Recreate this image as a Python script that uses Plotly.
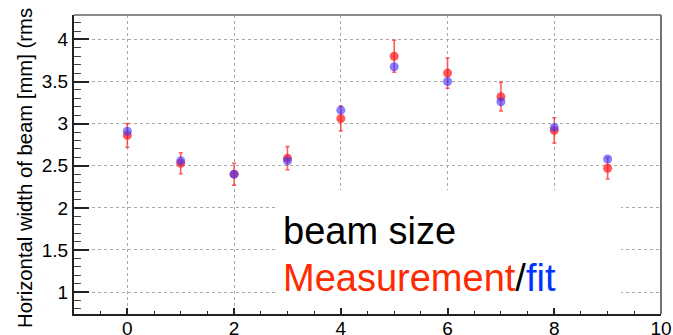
import plotly.graph_objects as go

# Data
x_pos = [0, 1, 2, 3, 4, 5, 6, 7, 8, 9]
measurement = [2.86, 2.53, 2.40, 2.59, 3.06, 3.80, 3.60, 3.32, 2.92, 2.47]
meas_err = [0.14, 0.125, 0.13, 0.137, 0.148, 0.19, 0.18, 0.17, 0.15, 0.127]
fit = [2.91, 2.56, 2.40, 2.56, 3.16, 3.675, 3.50, 3.26, 2.955, 2.58]

x_ticks = [0, 2, 4, 6, 8, 10]
y_ticks = [1, 1.5, 2, 2.5, 3, 3.5, 4]

W, H = 673, 335
ML, MR, MT, MB = 74, 12, 15, 21
PW, PH = W - ML - MR, H - MT - MB

fig = go.Figure()

fig.add_trace(go.Scatter(
    x=x_pos, y=measurement, mode="markers", name="Measurement",
    marker=dict(color="rgba(255,25,25,0.72)", size=9, line=dict(width=0)),
    error_y=dict(type="data", array=meas_err, visible=True,
                 color="rgba(255,40,40,0.75)", thickness=1.6, width=2),
    showlegend=False,
))
fig.add_trace(go.Scatter(
    x=x_pos, y=fit, mode="markers", name="fit",
    marker=dict(color="rgba(60,50,255,0.62)", size=9, line=dict(width=0)),
    showlegend=False,
))

# white box behind the text (covers grid lines)
fig.add_shape(type="rect", xref="x", yref="y", x0=2.77, x1=9.25, y0=0.745, y1=2.21,
              fillcolor="white", line=dict(width=0), layer="between")
# top and right frame lines
fig.add_shape(type="line", xref="paper", yref="paper", x0=0, x1=1, y0=1, y1=1,
              line=dict(color="#8a8a8a", width=2), layer="above")
fig.add_shape(type="line", xref="paper", yref="paper", x0=1, x1=1, y0=0, y1=1,
              line=dict(color="#707070", width=2), layer="above")

font_main = "Liberation Sans, Arial, sans-serif"

def py(pix):
    return (H - MB - pix) / PH

def px(pix):
    return (pix - ML) / PW

fig.add_annotation(xref="paper", yref="paper", x=px(281), y=py(231), xanchor="left", yanchor="middle",
                   text="beam size", showarrow=False,
                   font=dict(family=font_main, size=38, color="black"))
fig.add_annotation(xref="paper", yref="paper", x=px(281), y=py(278), xanchor="left", yanchor="middle",
                   text="<span style='color:#ff2a00'>Measurement</span>/<span style='color:#0033ff'>fit</span>",
                   showarrow=False,
                   font=dict(family=font_main, size=38, color="black"))
# y-axis title (truncated at the top in the reference)
fig.add_annotation(xref="paper", yref="paper", x=px(25), y=py(168),
                   xanchor="center", yanchor="middle", textangle=-90,
                   text="Horizontal width of beam [mm] (rms", showarrow=False,
                   font=dict(family=font_main, size=20.3, color="black"))

fig.update_layout(
    width=W, height=H,
    margin=dict(l=ML, r=MR, t=MT, b=MB, autoexpand=False),
    paper_bgcolor="white", plot_bgcolor="white",
    font=dict(family=font_main, color="black"),
    xaxis=dict(range=[-1, 10], tickmode="array", tickvals=x_ticks, ticktext=[str(v) for v in x_ticks],
               automargin=False, ticklabelstandoff=-4,
               ticks="inside", ticklen=6, tickwidth=1.5, tickcolor="#222",
               minor=dict(dtick=0.5, tick0=0, ticks="inside", ticklen=3, tickwidth=1.2, tickcolor="#222", showgrid=False),
               showgrid=True, gridcolor="#a8a8a8", gridwidth=1, griddash="dot",
               showline=True, linecolor="#222", linewidth=2, mirror=False, zeroline=False,
               tickfont=dict(size=19, family=font_main)),
    yaxis=dict(range=[0.74, 4.29], tickmode="array", tickvals=y_ticks, ticktext=["1", "1.5", "2", "2.5", "3", "3.5", "4"],
               automargin=False,
               ticks="inside", ticklen=15, tickwidth=1.5, tickcolor="#222",
               minor=dict(dtick=0.1, tick0=0, ticks="inside", ticklen=7, tickwidth=1.2, tickcolor="#444", showgrid=False),
               showgrid=True, gridcolor="#a8a8a8", gridwidth=1, griddash="dot",
               showline=True, linecolor="#222", linewidth=2, mirror=False, zeroline=False,
               tickfont=dict(size=19, family=font_main)),
)

fig.write_html("out.html")
